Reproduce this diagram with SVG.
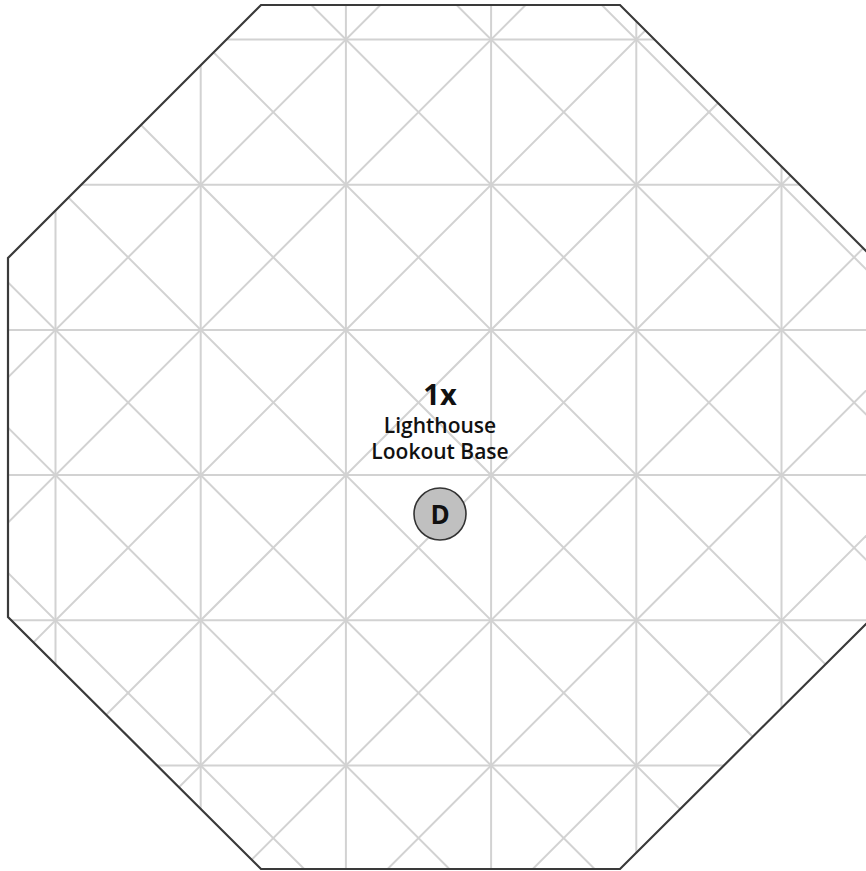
<svg xmlns="http://www.w3.org/2000/svg" width="866" height="871" viewBox="0 0 866 871">
  <style>
    .grid line { stroke: #d2d2d2; stroke-width: 2; }
    .lbl { font-family: "Open Sans", "Liberation Sans", sans-serif; fill: #111; text-anchor: middle; }
  </style>
  <defs>
    <clipPath id="oct">
      <polygon points="261,5 620,5 873,258 873,617 620,869 261,869 8,617 8,258"/>
    </clipPath>
  </defs>
  <rect width="866" height="871" fill="#ffffff"/>
  <g id="floor">
    <polygon points="261,5 620,5 873,258 873,617 620,869 261,869 8,617 8,258" fill="#ffffff"/>
    <g class="grid" clip-path="url(#oct)">
      <line x1="55.5" y1="0" x2="55.5" y2="880"/>
      <line x1="200.7" y1="0" x2="200.7" y2="880"/>
      <line x1="345.9" y1="0" x2="345.9" y2="880"/>
      <line x1="491.1" y1="0" x2="491.1" y2="880"/>
      <line x1="636.3" y1="0" x2="636.3" y2="880"/>
      <line x1="781.5" y1="0" x2="781.5" y2="880"/>
      <line x1="0" y1="39.5" x2="880" y2="39.5"/>
      <line x1="0" y1="184.7" x2="880" y2="184.7"/>
      <line x1="0" y1="329.9" x2="880" y2="329.9"/>
      <line x1="0" y1="475.1" x2="880" y2="475.1"/>
      <line x1="0" y1="620.3" x2="880" y2="620.3"/>
      <line x1="0" y1="765.5" x2="880" y2="765.5"/>
      <line x1="-574.8" y1="-10" x2="315.2" y2="880"/>
      <line x1="-429.6" y1="-10" x2="460.4" y2="880"/>
      <line x1="-284.4" y1="-10" x2="605.6" y2="880"/>
      <line x1="-139.2" y1="-10" x2="750.8" y2="880"/>
      <line x1="6" y1="-10" x2="896" y2="880"/>
      <line x1="151.2" y1="-10" x2="1041.2" y2="880"/>
      <line x1="296.4" y1="-10" x2="1186.4" y2="880"/>
      <line x1="441.6" y1="-10" x2="1331.6" y2="880"/>
      <line x1="586.8" y1="-10" x2="1476.8" y2="880"/>
      <line x1="395.4" y1="-10" x2="-494.6" y2="880"/>
      <line x1="540.6" y1="-10" x2="-349.4" y2="880"/>
      <line x1="685.8" y1="-10" x2="-204.2" y2="880"/>
      <line x1="831" y1="-10" x2="-59" y2="880"/>
      <line x1="976.2" y1="-10" x2="86.2" y2="880"/>
      <line x1="1121.4" y1="-10" x2="231.4" y2="880"/>
      <line x1="1266.6" y1="-10" x2="376.6" y2="880"/>
      <line x1="1411.8" y1="-10" x2="521.8" y2="880"/>
    </g>
    <polygon points="261,5 620,5 873,258 873,617 620,869 261,869 8,617 8,258" fill="none" stroke="#3a3a3a" stroke-width="2.2" stroke-linejoin="miter"/>
  </g>
  <g id="connectors"></g>
  <g id="node-lighthouse">
    <text class="lbl" x="440" y="405" font-size="29" font-weight="bold">1x</text>
    <text class="lbl" x="440" y="433" font-size="21" font-weight="600">Lighthouse</text>
    <text class="lbl" x="440" y="459" font-size="21" font-weight="600">Lookout Base</text>
  </g>
  <g id="node-D">
    <circle cx="440" cy="514" r="26" fill="#c0c0c0" stroke="#333333" stroke-width="1.6"/>
    <text class="lbl" x="440" y="524" font-size="26" font-weight="bold">D</text>
  </g>
</svg>
